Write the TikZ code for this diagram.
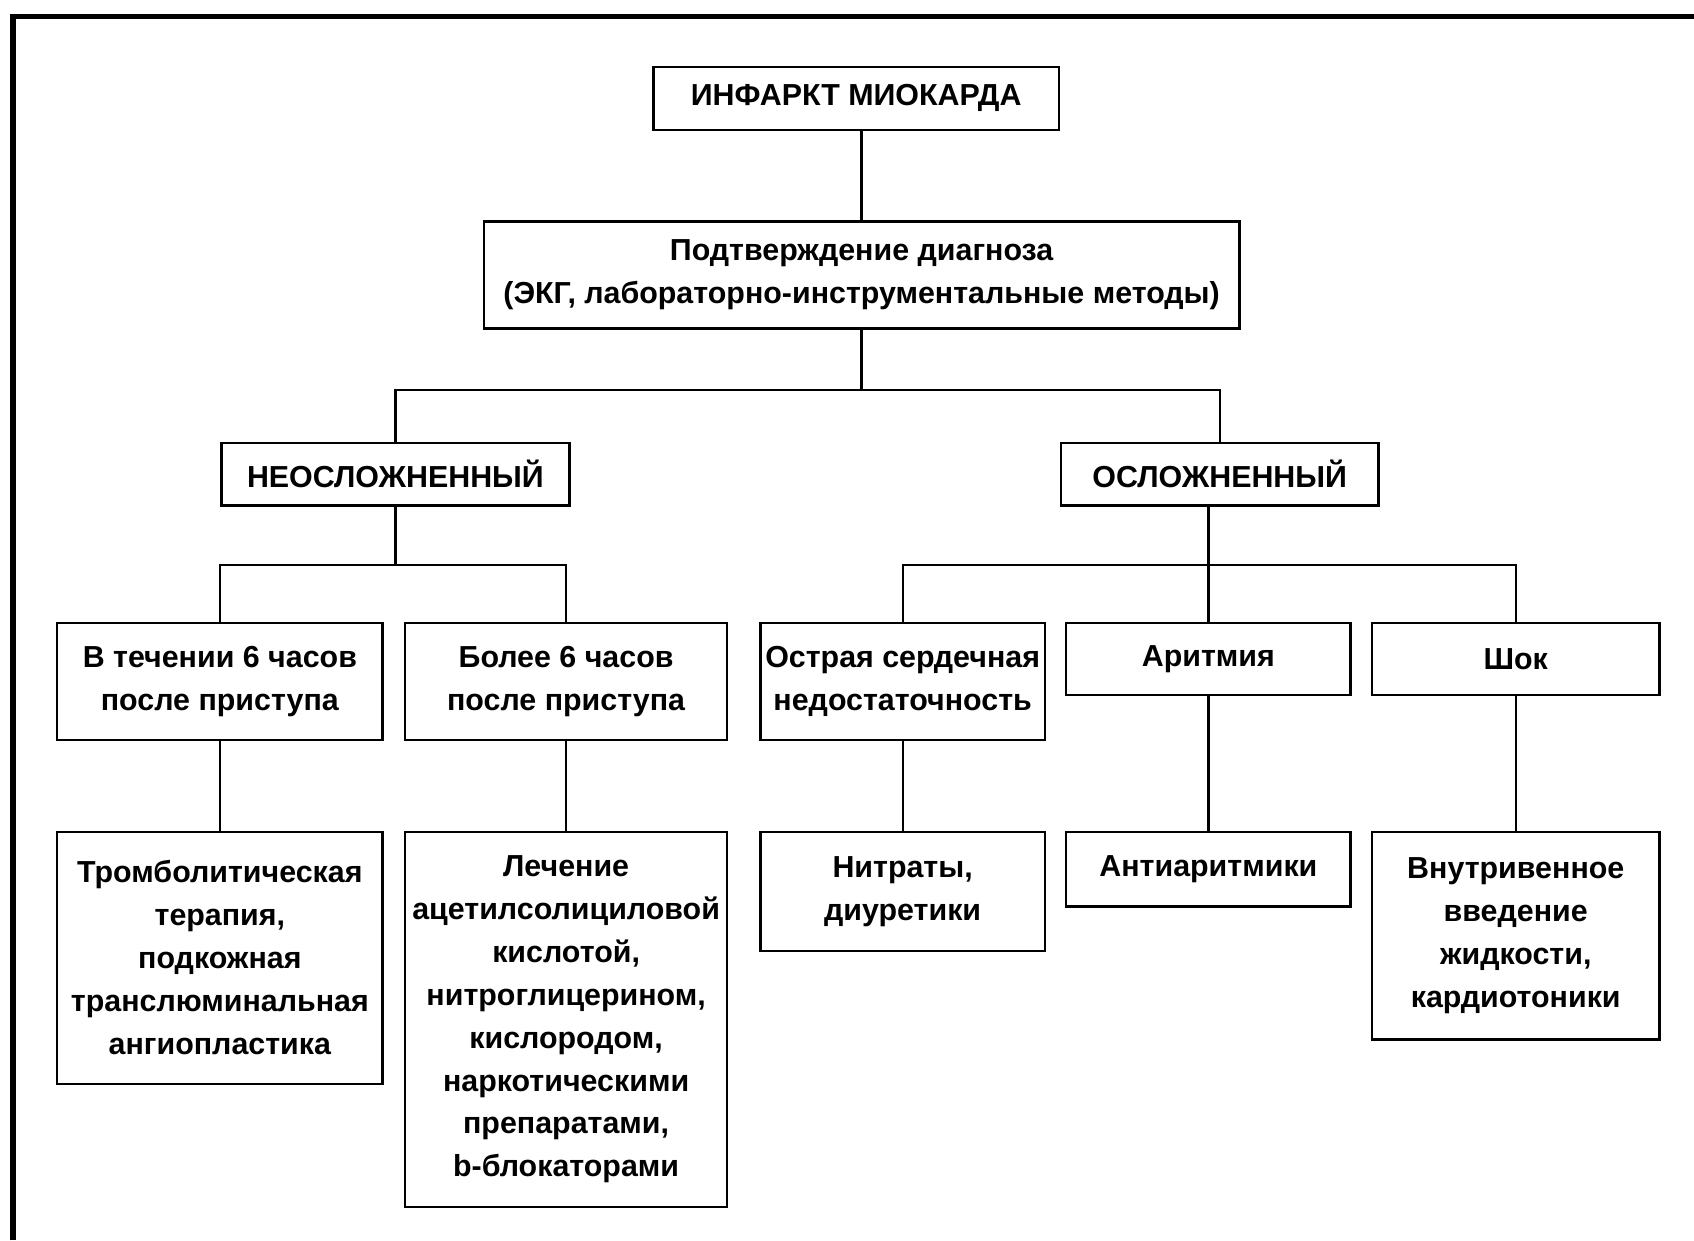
\documentclass[tikz,border=0pt]{standalone}
\usepackage{fontspec}
\setmainfont{Liberation Sans}
\tikzset{
  box/.style={draw, line width=0.6pt, align=center, inner sep=0pt,
    font=\bfseries\fontsize{8}{11.3}\selectfont},
  link/.style={line width=0.6pt},
}
\begin{document}
\begin{tikzpicture}[x=0.01cm,y=-0.01cm]
\useasboundingbox (0,0) rectangle (1568,1148);
% outer frame
\draw[line width=1.4pt] (12,1148) -- (12,15) -- (1568,15);

\node[box, minimum width=3.75cm, minimum height=0.58cm] (inf) at (792.5,91) {ИНФАРКТ МИОКАРДА};
\node[box, minimum width=6.99cm, minimum height=0.99cm] (podtv) at (797.5,254.5)
  {Подтверждение диагноза\\(ЭКГ, лабораторно-инструментальные методы)};

\node[box, minimum width=3.22cm, minimum height=0.58cm] (neo) at (366,439) {НЕОСЛОЖНЕННЫЙ};
\node[box, minimum width=2.94cm, minimum height=0.58cm] (osl) at (1129,439) {ОСЛОЖНЕННЫЙ};

\node[box, minimum width=3.01cm, minimum height=1.08cm] (t6) at (203.5,631) {В течении 6 часов\\после приступа};
\node[box, minimum width=2.98cm, minimum height=1.08cm] (b6) at (524,631) {Более 6 часов\\после приступа};
\node[box, minimum width=2.63cm, minimum height=1.08cm] (osn) at (835.5,631) {Острая сердечная\\недостаточность};
\node[box, minimum width=2.63cm, minimum height=0.66cm] (arit) at (1118.5,610) {Аритмия};
\node[box, minimum width=2.66cm, minimum height=0.66cm] (shok) at (1403,610) {Шок};

\node[box, minimum width=3.01cm, minimum height=2.33cm] (tromb) at (203.5,886.5)
  {Тромболитическая\\терапия,\\подкожная\\транслюминальная\\ангиопластика};
\node[box, minimum width=2.98cm, minimum height=3.47cm] (lech) at (524,943.5)
  {Лечение\\ацетилсолициловой\\кислотой,\\нитроглицерином,\\кислородом,\\наркотическими\\препаратами,\\b-блокаторами};
\node[box, minimum width=2.63cm, minimum height=1.10cm] (nitr) at (835.5,825) {Нитраты,\\диуретики};
\node[box, minimum width=2.63cm, minimum height=0.69cm] (antiar) at (1118.5,804.5) {Антиаритмики};
\node[box, minimum width=2.66cm, minimum height=1.92cm] (vnutr) at (1403,866)
  {Внутривенное\\введение\\жидкости,\\кардиотоники};

% connectors
\draw[link] (podtv.north) -- (podtv.north |- inf.south);
\draw[link] (podtv.south) -- ++(0,56) coordinate (bus1);
\draw[link] (neo.north) |- (bus1) -| (osl.north);

\draw[link] (neo.south) -- ++(0,54) coordinate (bus2);
\draw[link] (t6.north) |- (bus2) -| (b6.north);

\path (osl.south) ++(0,54) coordinate (bus3);
\draw[link] (osn.north) |- (bus3) -| (shok.north);
\draw[link] (arit.north) -- (arit.north |- osl.south);

\draw[link] (t6.south) -- (tromb.north);
\draw[link] (b6.south) -- (lech.north);
\draw[link] (osn.south) -- (nitr.north);
\draw[link] (arit.south) -- (antiar.north);
\draw[link] (shok.south) -- (vnutr.north);
\end{tikzpicture}
\end{document}
